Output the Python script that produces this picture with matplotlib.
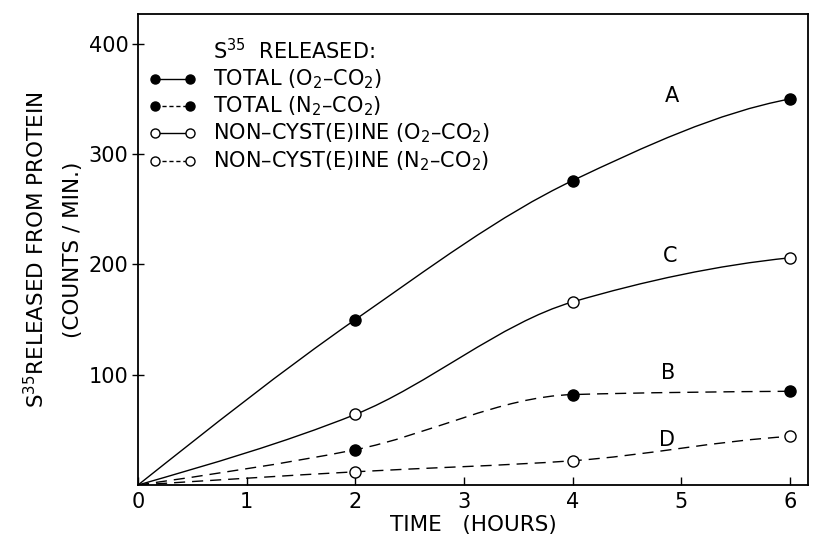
import numpy as np
import matplotlib
matplotlib.use("Agg")
import matplotlib.pyplot as plt
from matplotlib.path import Path
from matplotlib.patches import PathPatch
from matplotlib.lines import Line2D

plt.rcParams['font.family'] = ['DejaVu Sans']

time_h = [0, 2, 4, 6]
total_o2 = [0, 150, 276, 350]      # A
total_n2 = [0, 32, 82, 85]         # B
noncys_o2 = [0, 64, 166, 206]      # C
noncys_n2 = [0, 12, 22, 44]        # D

series = [
    ("A", total_o2, "black", "-"),
    ("B", total_n2, "black", (0, (8, 5))),
    ("C", noncys_o2, "white", "-"),
    ("D", noncys_n2, "white", (0, (8, 5))),
]
label_pos = {"A": (4.91, 353), "B": (4.88, 102), "C": (4.90, 208), "D": (4.87, 41)}

x_ticks = [0, 1, 2, 3, 4, 5, 6]
y_ticks = [100, 200, 300, 400]

fig = plt.figure(figsize=(8.24, 5.37), dpi=100)
ax = fig.add_axes([0.1675, 0.0968, 0.813, 0.877])
ax.set_xlim(0, 6.166)
ax.set_ylim(0, 427)


def smooth_path(xs, ys):
    xs = np.asarray(xs, float)
    ys = np.asarray(ys, float)
    n = len(xs)
    d = np.diff(ys) / np.diff(xs)
    m = np.zeros(n)
    for i in range(1, n - 1):
        if d[i - 1] * d[i] <= 0:
            m[i] = 0.0
        else:
            m[i] = 2 * d[i - 1] * d[i] / (d[i - 1] + d[i])
    m[0] = max((3 * d[0] - m[1]) / 2, 0)
    m[-1] = 0.5 * d[-1]
    verts = [(xs[0], ys[0])]
    codes = [Path.MOVETO]
    for i in range(n - 1):
        h = xs[i + 1] - xs[i]
        verts += [(xs[i] + h / 3, ys[i] + m[i] * h / 3),
                  (xs[i + 1] - h / 3, ys[i + 1] - m[i + 1] * h / 3),
                  (xs[i + 1], ys[i + 1])]
        codes += [Path.CURVE4] * 3
    return Path(verts, codes)


for name, ys, fc, ls in series:
    p = smooth_path(time_h, ys)
    ax.add_patch(PathPatch(p, fill=False, edgecolor="black", lw=1.0,
                           linestyle=ls, transform=ax.transData, zorder=2))
    ax.plot(time_h[1:], ys[1:], linestyle="none", marker="o", markersize=8,
            markerfacecolor=fc, markeredgecolor="black", markeredgewidth=1.0, zorder=3)
    lx, ly = label_pos[name]
    ax.text(lx, ly, name, fontsize=15, ha="center", va="center")

ax.set_xticks(x_ticks)
ax.set_yticks(y_ticks)
ax.tick_params(axis="x", direction="in", length=6, width=1, labelsize=15, pad=5)
ax.tick_params(axis="y", direction="inout", length=8, width=1, labelsize=15, pad=3)
for s in ax.spines.values():
    s.set_linewidth(1.3)

ax.set_xlabel("TIME   (HOURS)", fontsize=15.5, labelpad=2)
ax.set_ylabel("S$^{35}$RELEASED FROM PROTEIN\n(COUNTS / MIN.)", fontsize=15.5,
              linespacing=1.9, labelpad=4)

# legend (hand-made)
ax.text(0.112, 0.923, "S$^{35}$  RELEASED:", transform=ax.transAxes, fontsize=15,
        ha="left", va="center")
leg_rows = [
    ("TOTAL (O$_2$–CO$_2$)", "black", "-"),
    ("TOTAL (N$_2$–CO$_2$)", "black", (0, (3, 2))),
    ("NON–CYST(E)INE (O$_2$–CO$_2$)", "white", "-"),
    ("NON–CYST(E)INE (N$_2$–CO$_2$)", "white", (0, (3, 2))),
]
row_y = [0.862, 0.805, 0.747, 0.688]
for (txt, fc, ls), yy in zip(leg_rows, row_y):
    ax.add_line(Line2D([0.026, 0.078], [yy, yy], transform=ax.transAxes,
                       color="black", lw=1.0, linestyle=ls, marker="o",
                       markersize=6.5, markerfacecolor=fc, markeredgecolor="black"))
    ax.text(0.112, yy, txt, transform=ax.transAxes, fontsize=15, ha="left", va="center")

fig.savefig("out.png", dpi=100)
